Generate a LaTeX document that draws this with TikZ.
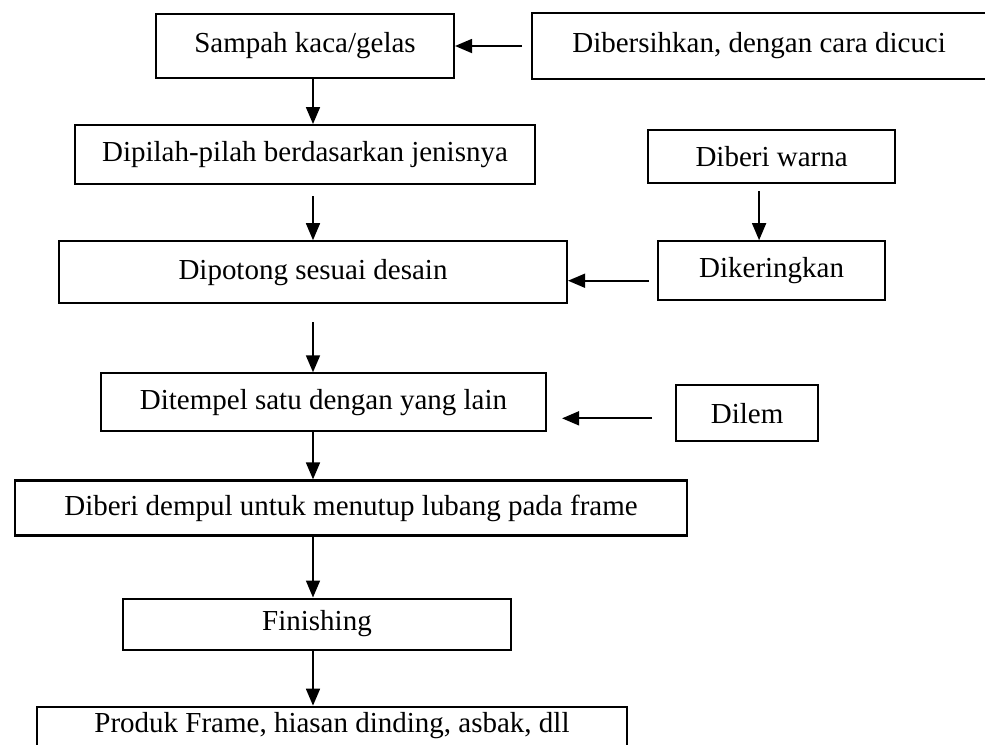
\documentclass[tikz,border=0pt]{standalone}
\usepackage{fontspec}
\setmainfont{Liberation Serif}
\usetikzlibrary{arrows.meta,positioning}

\begin{document}
\begin{tikzpicture}[
  proc/.style={draw, line width=1.2pt, inner sep=0pt,
               font=\fontsize{16.5}{19}\selectfont},
  flow/.style={-{Triangle[length=0.34cm, width=0.28cm]}, line width=1pt}
]
  \useasboundingbox (-6.1,0.92) rectangle (13.6,-13.96);

  \node[proc, minimum width=5.96cm, minimum height=1.28cm]                       (samp)   {Sampah kaca/gelas};
  \node[proc, minimum width=9.08cm, minimum height=1.32cm, right=1.52cm of samp] (bersih) {Dibersihkan, dengan cara dicuci};
  \node[proc, minimum width=9.2cm, minimum height=1.18cm, below=0.9cm of samp]   (pilah)  {Dipilah-pilah berdasarkan jenisnya};
  \node[proc, minimum width=4.94cm, minimum height=1.06cm, below=0.98cm of bersih, xshift=0.25cm] (warna) {Diberi warna};
  \node[proc, minimum width=10.16cm, minimum height=1.24cm, below=1.1cm of pilah, xshift=0.16cm] (potong) {Dipotong sesuai desain};
  \node[proc, minimum width=4.54cm, minimum height=1.18cm, below=1.12cm of warna] (kering) {Dikeringkan};
  \node[proc, minimum width=8.9cm, minimum height=1.16cm, below=1.36cm of potong, xshift=0.21cm] (tempel) {Ditempel satu dengan yang lain};
  \node[proc, minimum width=2.84cm, minimum height=1.12cm, right=2.56cm of tempel, yshift=-0.22cm] (lem) {Dilem};
  \node[proc, minimum width=13.44cm, minimum height=1.1cm, below=0.94cm of tempel, xshift=0.55cm] (dempul) {Diberi dempul untuk menutup lubang pada frame};
  \node[proc, minimum width=7.76cm, minimum height=1.02cm, below=1.22cm of dempul, xshift=-0.68cm] (finish) {Finishing};
  \node[proc, minimum width=11.8cm, minimum height=1.6cm, text height=0.4cm, text depth=0.96cm,
        below=1.1cm of finish, xshift=0.3cm] (produk) {Produk Frame, hiasan dinding, asbak, dll};

  \draw[flow, shorten <=0.18cm] (bersih.west) -- (samp.east);
  \draw[flow] (samp.south -| potong.north) -- (pilah.north -| potong.north);
  \draw[flow, shorten <=0.22cm] (pilah.south -| potong.north) -- (potong.north);
  \draw[flow, shorten <=0.14cm] ([xshift=-0.25cm]warna.south) -- ([xshift=-0.25cm]warna.south |- kering.north);
  \draw[flow, shorten <=0.16cm] ([yshift=-0.2cm]kering.west) -- ([yshift=-0.2cm]kering.west -| potong.east);
  \draw[flow, shorten <=0.36cm] (potong.south) -- (tempel.north -| potong.south);
  \draw[flow, shorten <=0.46cm, shorten >=0.3cm] ([yshift=-0.1cm]lem.west) -- ([yshift=-0.1cm]lem.west -| tempel.east);
  \draw[flow] (tempel.south -| potong.south) -- (dempul.north -| potong.south);
  \draw[flow] (dempul.south -| potong.south) -- (finish.north -| potong.south);
  \draw[flow] (finish.south -| potong.south) -- (produk.north -| potong.south);
\end{tikzpicture}
\end{document}
